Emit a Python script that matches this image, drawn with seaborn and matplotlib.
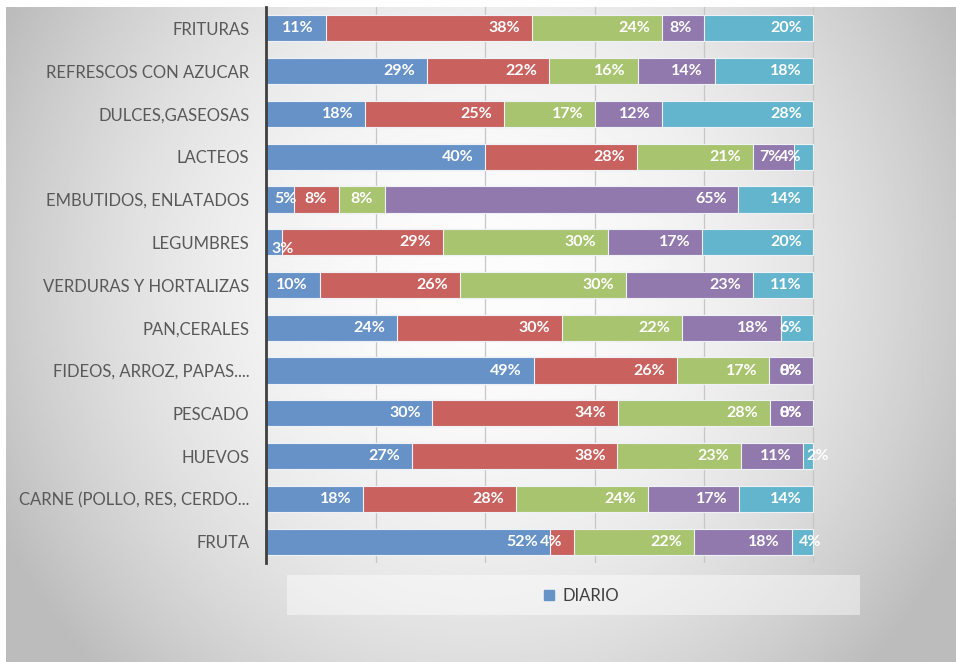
import numpy as np
import pandas as pd
import matplotlib.pyplot as plt
import seaborn as sns
from matplotlib.patches import Rectangle
from matplotlib.lines import Line2D

# data (percent of people)
categorias = ["FRITURAS", "REFRESCOS CON AZUCAR", "DULCES,GASEOSAS", "LACTEOS",
              "EMBUTIDOS, ENLATADOS", "LEGUMBRES", "VERDURAS Y HORTALIZAS",
              "PAN,CERALES", "FIDEOS, ARROZ, PAPAS....", "PESCADO", "HUEVOS",
              "CARNE (POLLO, RES, CERDO...", "FRUTA"]
diario = [10.9, 29.4, 18.1, 40.0, 5.1, 2.9, 9.8, 23.9, 48.9, 30.4, 26.6, 17.8, 51.9]
serie2 = [37.6, 22.3, 25.3, 27.8, 8.2, 29.4, 25.6, 30.1, 26.1, 33.9, 37.6, 27.9, 4.4]
serie3 = [23.9, 16.2, 16.7, 21.2, 8.4, 30.1, 30.3, 22.0, 16.9, 27.8, 22.6, 24.1, 21.8]
serie4 = [7.6, 14.1, 12.3, 7.4, 64.6, 17.3, 23.3, 18.0, 8.1, 7.9, 11.3, 16.6, 17.9]
serie5 = [20.0, 18.0, 27.6, 3.6, 13.7, 20.3, 11.0, 6.0, 0.0, 0.0, 1.9, 13.6, 4.0]
series = [diario, serie2, serie3, serie4, serie5]
colores = ["#6792c8", "#c9625e", "#a8c46f", "#9179ae", "#62b5cc"]

# labels that excel pushed away from the usual inside-end spot
label_fuera = {("LEGUMBRES", 0): (4, -5), ("HUEVOS", 4): (2, 0), ("FRUTA", 4): (5, 0),
               ("EMBUTIDOS, ENLATADOS", 0): (6, 0)}

df = pd.DataFrame({"categoria": categorias})
cum = np.cumsum(np.array(series) / 100.0, axis=0)
for i in range(5):
    df[f"cum{i}"] = cum[i]

sns.set_style("white")
plt.rcParams["font.family"] = ["Lato", "DejaVu Sans"]

fig = plt.figure(figsize=(9.56, 6.62), dpi=100)
fig.patch.set_facecolor("white")

# grey radial backdrop
bg = fig.add_axes([6/956, 0, 950/956, 655/662])
yy, xx = np.mgrid[0:1:300j, 0:1:400j]
r2 = ((xx - 0.5) / 0.5) ** 2 + ((yy - 0.42) / 0.75) ** 2
grad = np.clip(252 - 50 * r2, 188, 255)
bg.imshow(grad, cmap="gray", vmin=0, vmax=255, extent=[0, 1, 0, 1], aspect="auto")
bg.axis("off")
bg.set_zorder(-2)

# legend strip
fig.patches.append(Rectangle((287/956, 1 - 615/662), 573/956, 40/662,
                             transform=fig.transFigure, facecolor="white",
                             alpha=0.45, edgecolor="none", zorder=-1))

ax = fig.add_axes([266/956, 1 - 563/662, 657/956, 556/662])
ax.set_facecolor("none")

# stacked bars: draw cumulative totals from the widest down
for i in range(4, -1, -1):
    sns.barplot(data=df, x=f"cum{i}", y="categoria", orient="h", color=colores[i],
                saturation=1, width=0.61, edgecolor="#eef2f6", linewidth=0.8, ax=ax)

# value labels at the inside end of each segment
for i in range(5):
    for j, cat in enumerate(categorias):
        v = series[i][j]
        start = cum[i][j] - v / 100.0
        if (cat, i) in label_fuera:
            dx, dy = label_fuera[(cat, i)]
            ax.annotate(f"{v:.0f}%", (start, j), xytext=(dx, dy), textcoords="offset points",
                        ha="left", va="center", color="white", fontsize=11.5,
                        fontweight="bold")
        else:
            ax.annotate(f"{v:.0f}%", (cum[i][j], j), xytext=(-8.5, 0),
                        textcoords="offset points", ha="right", va="center",
                        color="white", fontsize=11.5, fontweight="bold")

ax.set_xlim(0, 1.2)
ax.set_ylim(12.5, -0.5)
ax.set_xticks([0.2, 0.4, 0.6, 0.8, 1.0, 1.2])
ax.set_xticklabels([])
ax.grid(axis="x", color="#c6c6c6", linewidth=0.9)
ax.set_axisbelow(True)
ax.tick_params(axis="both", length=0)
ax.tick_params(axis="y", pad=12, labelsize=12, labelcolor="#595959")
ax.set_xlabel("")
ax.set_ylabel("")
for s in ["top", "right", "bottom"]:
    ax.spines[s].set_visible(False)
ax.spines["left"].set_color("#3f3f3f")
ax.spines["left"].set_linewidth(2)

handle = Line2D([], [], marker="s", linestyle="none", markersize=7,
                markerfacecolor=colores[0], markeredgecolor=colores[0])
fig.legend([handle], ["DIARIO"], loc="center", bbox_to_anchor=(580/956, 1 - 596/662),
           frameon=False, fontsize=12, labelcolor="#404040", handletextpad=0.3,
           handlelength=1.0)

fig.savefig("out.png", dpi=100)
